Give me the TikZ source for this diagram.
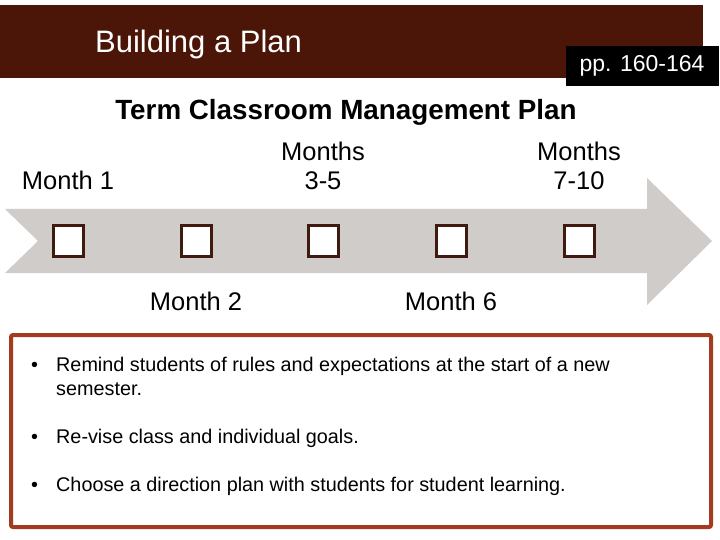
\documentclass[tikz,border=0pt]{standalone}
\usepackage{fontspec}
\setmainfont{Liberation Sans}
\definecolor{banner}{HTML}{4B1507}
\definecolor{arrowgray}{HTML}{D0CCCA}
\definecolor{boxbrown}{HTML}{3F1A0E}
\definecolor{rust}{HTML}{A23B1F}

\begin{document}
\begin{tikzpicture}[x=1pt,y=-1pt,
  monthbox/.style={draw=boxbrown,line width=3pt,fill=white,minimum width=30pt,minimum height=30pt,inner sep=0pt},
  monthlabel/.style={font=\fontsize{25.5}{29}\selectfont,align=center,inner sep=0pt},
  bullettext/.style={font=\fontsize{19.8}{24}\selectfont,anchor=base west,inner sep=0pt}]
\useasboundingbox (0,0) rectangle (720,540);
\fill[white] (0,0) rectangle (720,540);
% banner
\fill[banner] (0,5) rectangle (703,78);
\node[anchor=base west,text=white,font=\fontsize{31}{36}\selectfont,inner sep=0pt] (title) at (95,53) {Building a Plan};
\node[fill=black,text=white,font=\fontsize{23}{27}\selectfont,minimum width=153pt,minimum height=40pt,inner sep=0pt] (pages) at (642,66) {pp. 160-164};
\node[font=\bfseries\fontsize{27.8}{32}\selectfont,inner sep=0pt] (heading) at (346,112) {Term Classroom Management Plan};
% arrow
\fill[arrowgray] (5,209) -- (647,209) -- (647,178) -- (712,241) -- (647,305) -- (647,273) -- (5,273) -- (38,241) -- cycle;
\node[monthbox] (m1) at (68,241) {};
\node[monthbox] (m2) at (196,241) {};
\node[monthbox] (m3) at (323,241) {};
\node[monthbox] (m6) at (451,241) {};
\node[monthbox] (m7) at (579,241) {};
\node[monthlabel] (l1) at (68,180) {Month 1};
\node[monthlabel] (l3) at (323,166) {Months\\3-5};
\node[monthlabel] (l7) at (579,166) {Months\\7-10};
\node[monthlabel] (l2) at (196,301) {Month 2};
\node[monthlabel] (l6) at (451,301) {Month 6};
% notes
\draw[rust,line width=4pt,rounded corners=2pt,fill=white] (11,335) rectangle (711,527);
\node[bullettext] (b1) at (31,371) {\textbullet};
\node[bullettext] (t1) at (56,371) {Remind students of rules and expectations at the start of a new};
\node[bullettext] (t1b) at (56,395) {semester.};
\node[bullettext] (b2) at (31,443) {\textbullet};
\node[bullettext] (t2) at (56,443) {Re-vise class and individual goals.};
\node[bullettext] (b3) at (31,491) {\textbullet};
\node[bullettext] (t3) at (56,491) {Choose a direction plan with students for student learning.};
\end{tikzpicture}
\end{document}
